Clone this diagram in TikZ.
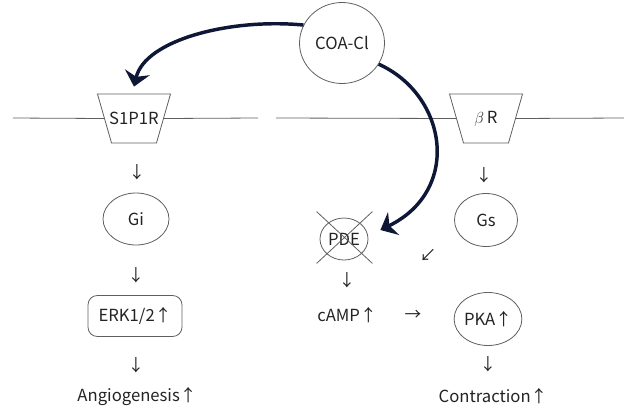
\documentclass[tikz,border=0pt]{standalone}
\usepackage{fontspec}
\setmainfont{Noto Sans CJK JP}
\usetikzlibrary{shapes.geometric,shapes.misc,arrows.meta,calc,positioning}
\definecolor{membrane}{RGB}{95,95,95}
\definecolor{inktext}{RGB}{35,35,35}
\definecolor{coaink}{RGB}{14,24,54}

\begin{document}
\begin{tikzpicture}[
    x=0.75pt, y=-0.75pt,
    font=\fontsize{12.5}{15}\selectfont,
    every node/.style={text=inktext},
    receptor/.style={draw=membrane, line width=0.6pt, trapezium, shape border rotate=180, trapezium angle=74, minimum width=54pt, minimum height=36.75pt, inner sep=0pt},
    oval/.style={draw=membrane, line width=0.6pt, ellipse, inner sep=0pt},
    box/.style={draw=membrane, line width=0.6pt, rounded corners=7pt, minimum width=70.5pt, minimum height=30.75pt},
    glyph/.style={inner sep=0pt},
    membrane line/.style={draw=membrane, line width=0.6pt},
    coa arrow/.style={-{Stealth[length=11pt,width=19pt,inset=3.5pt]}, line width=2.6pt, coaink}
]
\useasboundingbox (0,0) rectangle (624,408);

% Membrane with the two receptors
\node[receptor] (s1p1r) at (134,118.5) {\phantom{x}};
\node[receptor] (br) at (486,118.5) {\phantom{x}};
\node[glyph] (s1p1rname) at (s1p1r.center) {S1P1R};
\node[glyph] (brname) at (br.center) {$\beta$\,R};

\coordinate (memA) at (13,118);
\coordinate (memB) at (258,118);
\coordinate (memC) at (276,118);
\coordinate (memD) at (624,118);

\draw[membrane line] (memA) -- (s1p1r.west);
\draw[membrane line] (s1p1r.east) -- (memB);
\draw[membrane line] (memC) -- (br.west);
\draw[membrane line] (br.east) -- (memD);

% COA-Cl
\node[oval, minimum width=63.75pt, minimum height=60.75pt] (coa) at (342,43) {COA-Cl};

% S1P1R pathway - left column
\node[glyph] (dn1) at (137,172) {↓};
\node[oval, minimum width=49.5pt, minimum height=39pt] (gi) at (136,219) {Gi};
\node[glyph] (dn2) at (136,275) {↓};
\node[box] (erk) at (135,316) {ERK1/2↑};
\node[glyph] (dn3) at (136,365) {↓};
\node[glyph] (angio) at (137,397) {Angiogenesis↑};

% beta receptor pathway - right column
\node[glyph] (dn4) at (484,175) {↓};
\node[oval, minimum width=47.25pt, minimum height=39.75pt] (gs) at (486,220) {Gs};
\node[glyph] (sw) at (428,255) {↙};
\node[oval, minimum width=50.25pt, minimum height=39.75pt] (pka) at (488,319) {PKA↑};
\node[glyph] (dn6) at (488,364) {↓};
\node[glyph] (contr) at (493,396) {Contraction↑};

% PDE (inhibited) and cAMP
\node[oval, minimum width=36pt, minimum height=31.5pt] (pde) at (344,239) {PDE};
\node[cross out, draw=membrane, line width=0.6pt, minimum width=41.25pt, minimum height=38.25pt, inner sep=0pt] (pdex) at (344.5,237.5) {};
\node[glyph] (dn5) at (347,280) {↓};
\node[glyph] (camp) at (347,315) {cAMP↑};
\node[glyph] (rt) at (413,315) {→};

% COA-Cl effects
\draw[coa arrow] (coa.155) .. controls (230,18) and (145,40) .. ($(s1p1r.north)+(0,-7)$);
\draw[coa arrow] (coa.-30) .. controls (447,95) and (462,190) .. ($(pde.east)+(12,-9)$);

\end{tikzpicture}
\end{document}
